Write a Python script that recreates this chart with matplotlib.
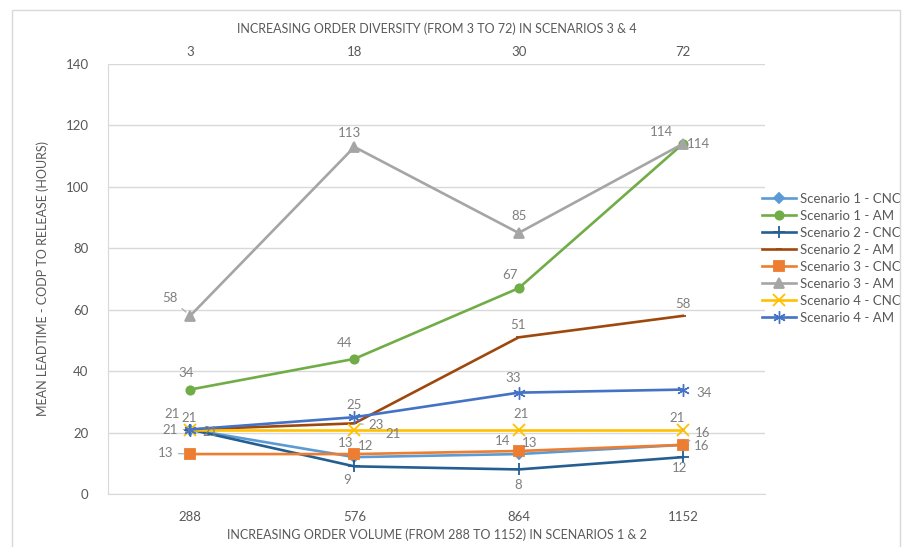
import matplotlib.pyplot as plt
from matplotlib.patches import Rectangle

plt.rcParams['font.family'] = ['Lato', 'DejaVu Sans']

# order volume (bottom axis) and order diversity (top axis)
volume = ['288', '576', '864', '1152']
diversity = ['3', '18', '30', '72']

s1_cnc = [21, 12, 13, 16]
s1_am = [34, 44, 67, 114]
s2_cnc = [21, 9, 8, 12]
s2_am = [21, 23, 51, 58]
s3_cnc = [13, 13, 14, 16]
s3_am = [58, 113, 85, 114]
s4_cnc = [21, 21, 21, 21]
s4_am = [21, 25, 33, 34]

names = ['Scenario 1 - CNC', 'Scenario 1 - AM', 'Scenario 2 - CNC', 'Scenario 2 - AM',
         'Scenario 3 - CNC', 'Scenario 3 - AM', 'Scenario 4 - CNC', 'Scenario 4 - AM']
series = [s1_cnc, s1_am, s2_cnc, s2_am, s3_cnc, s3_am, s4_cnc, s4_am]

colors = ['#5B9BD5', '#70AD47', '#255E91', '#9E480E',
          '#ED7D31', '#A5A5A5', '#FFC000', '#4472C4']
markers = ['D', 'o', '+', '_', 's', '^', 'x', (6, 2, 0)]
msizes = [5, 6, 9, 5, 6.5, 7, 8, 9]
mews = [1.3, 1.3, 1.3, 1.3, 1.3, 1.3, 1.3, 1.0]

# label offsets in pixels (dx, dy) per series/point; None = no label
offsets = [
    [(-20, 0), (11, 11), (11, 11), (20, 12)],
    [(-4, 17), (-10, 16), (-9, 13), (16, 0)],
    [None, (-7, -14), (0, -16), (-3, -11)],
    [(-18, 16), (22, -2), (-1, 12), (0, 12)],
    [(-25, 1), (-9, 11), (-16, 10), (19, -1)],
    [(-20, 18), (-5, 14), (0, 17), (-21, 12)],
    [(20, -3), (39, -4), (2, 16), (-6, 12)],
    [(-1, 12), (0, 12), (-5, 15), (21, -3)],
]
leaders = {(0, 0), (4, 0), (5, 0), (0, 3), (3, 1), (6, 3)}

fig = plt.figure(figsize=(9.08, 5.47), dpi=100)
ax = fig.add_axes([108 / 908, 1 - 494 / 547, 657 / 908, 430 / 547])

x = list(range(len(volume)))
for i, (name, ys) in enumerate(zip(names, series)):
    ax.plot(x, ys, color=colors[i], lw=1.9, marker=markers[i], ms=msizes[i],
            mew=mews[i], mfc=colors[i], mec=colors[i], label=name, zorder=3 + i)
    for j, v in enumerate(ys):
        off = offsets[i][j]
        if off is None:
            continue
        arrow = None
        if (i, j) in leaders:
            arrow = dict(arrowstyle='-', color='#A6A6A6', lw=0.8, shrinkA=2, shrinkB=4)
        ax.annotate(str(v), (j, v), xytext=off, textcoords='offset pixels',
                    ha='center', va='center', fontsize=9.5, color='#7F7F7F',
                    arrowprops=arrow, zorder=20)

ax.set_xlim(-0.5, 3.5)
ax.set_ylim(0, 140)
ax.set_yticks(range(0, 141, 20))
ax.yaxis.grid(True, color='#D9D9D9', lw=1)
ax.set_axisbelow(True)
ax.set_xticks(x)
ax.set_xticklabels(volume)
ax.tick_params(length=0, labelsize=9.5, labelcolor='#595959')
ax.tick_params(axis='y', pad=14)
ax.tick_params(axis='x', pad=12)
for side in ['top', 'right']:
    ax.spines[side].set_visible(False)
ax.spines['left'].set_color('#D9D9D9')
ax.spines['bottom'].set_color('#D9D9D9')
ax.set_xlabel('INCREASING ORDER VOLUME (FROM 288 TO 1152) IN SCENARIOS 1 & 2',
              fontsize=9, color='#595959', labelpad=4)
ax.set_ylabel('MEAN LEADTIME - CODP TO RELEASE (HOURS)',
              fontsize=9, color='#595959', labelpad=12)

top = ax.twiny()
top.set_xlim(ax.get_xlim())
top.set_xticks(x)
top.set_xticklabels(diversity)
top.tick_params(length=0, labelsize=9.5, labelcolor='#595959', pad=4)
for side in top.spines:
    top.spines[side].set_visible(False)
top.set_xlabel('INCREASING ORDER DIVERSITY (FROM 3 TO 72) IN SCENARIOS 3 & 4',
               fontsize=9, color='#595959', labelpad=10)

ax.legend(loc='upper left', bbox_to_anchor=(750 / 908, 1 - 181 / 547),
          bbox_transform=fig.transFigure, frameon=False, fontsize=9.5,
          handlelength=2.6, labelspacing=0.38, handletextpad=0.3,
          labelcolor='#595959')

fig.patches.append(Rectangle((12 / 908, -0.01), 888 / 908, 1 - 10 / 547 + 0.01,
                             transform=fig.transFigure, fill=False,
                             edgecolor='#D9D9D9', lw=1))

fig.savefig('out.png', dpi=100)
